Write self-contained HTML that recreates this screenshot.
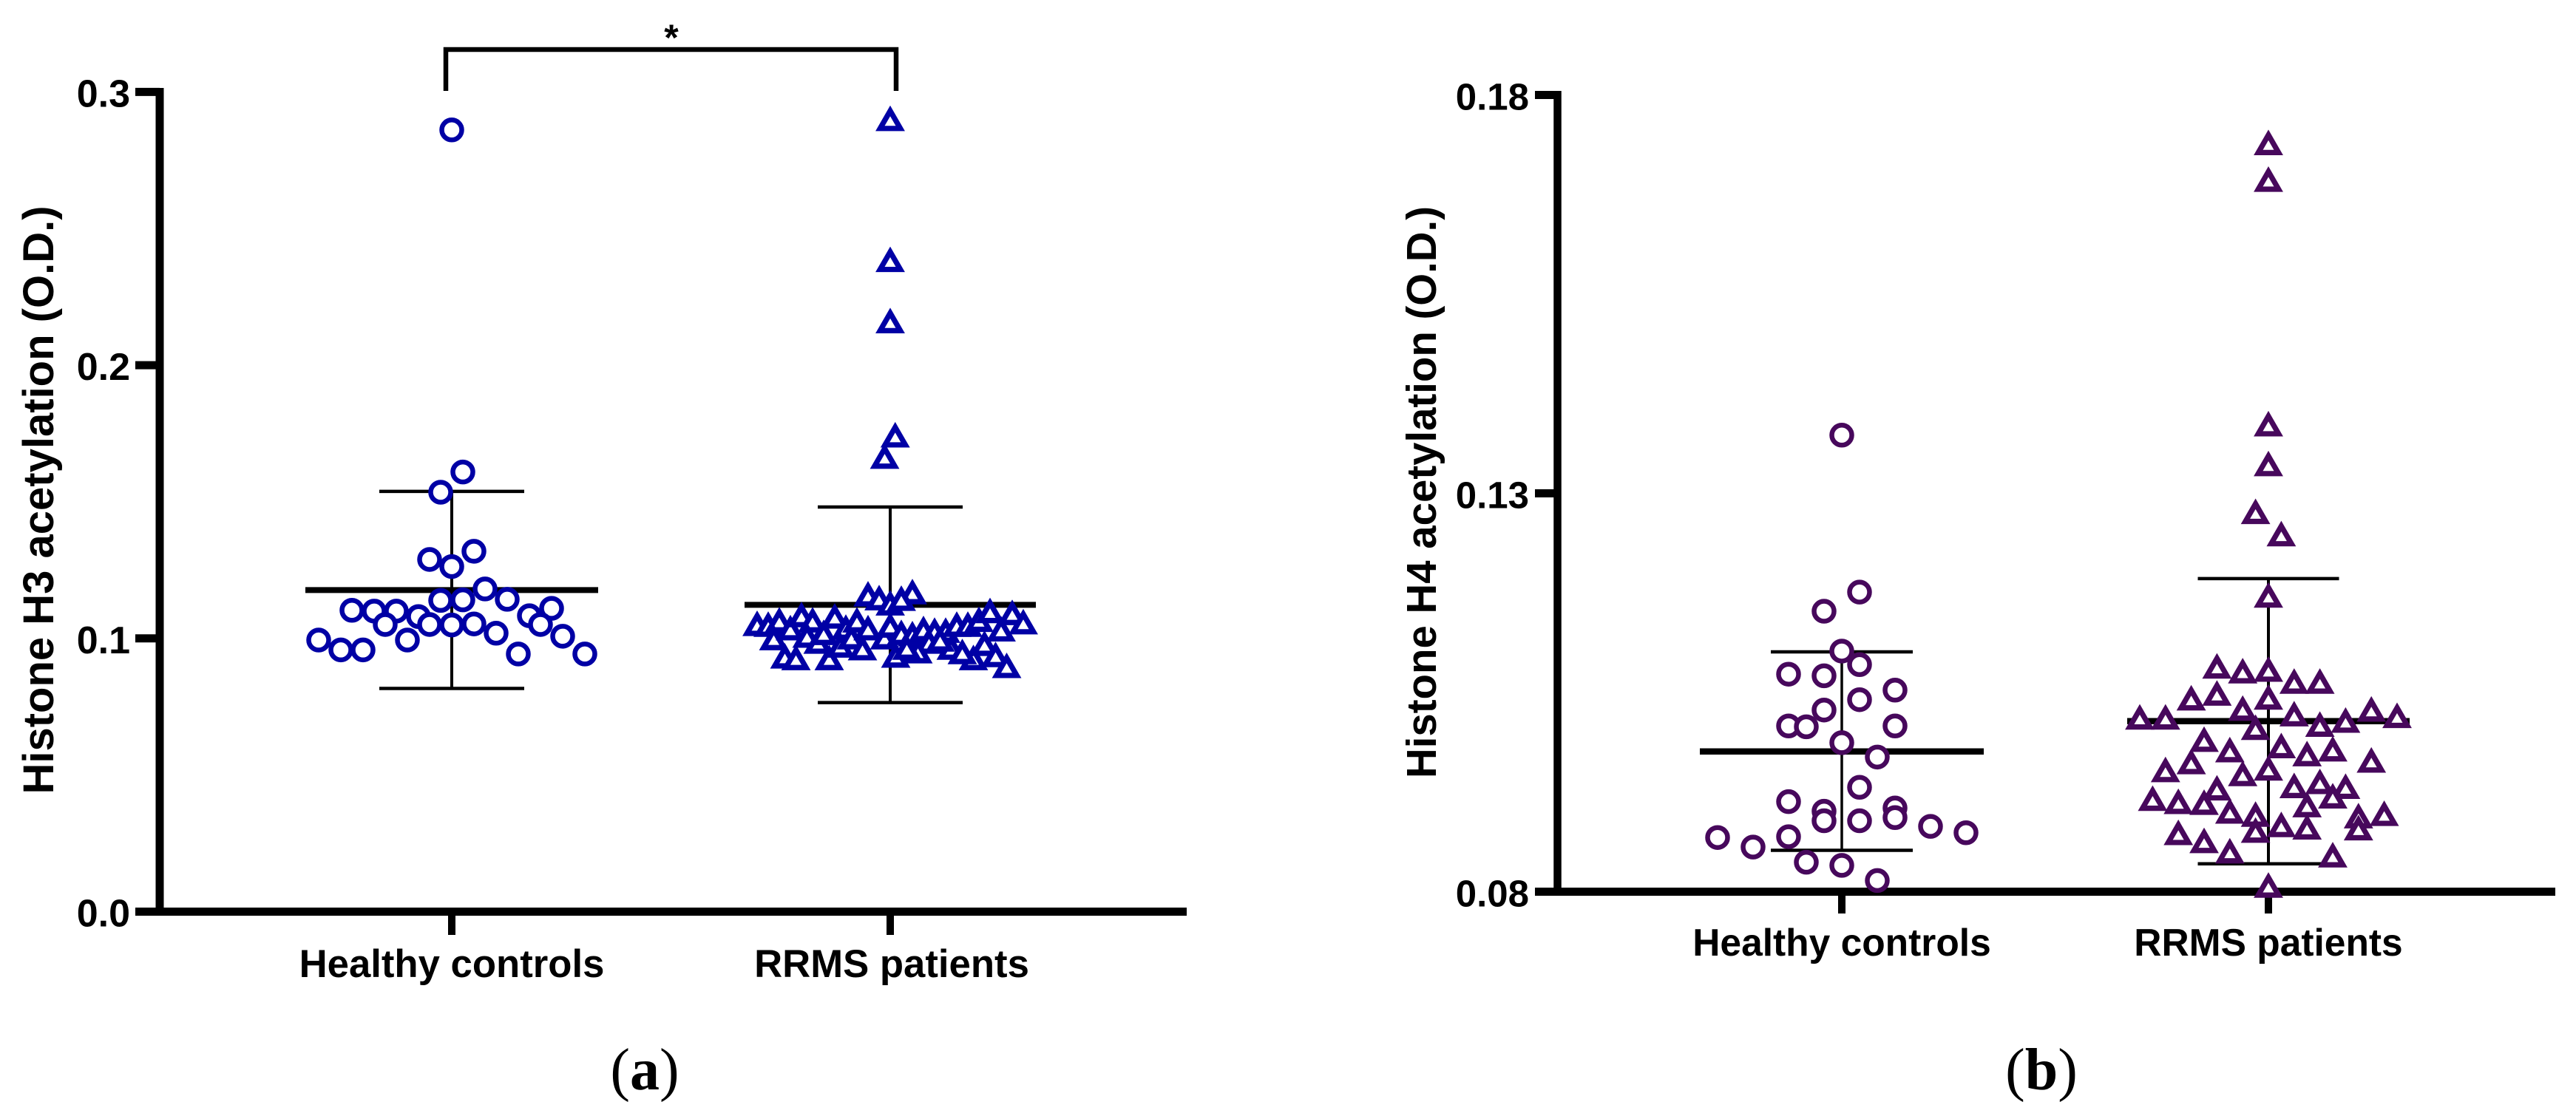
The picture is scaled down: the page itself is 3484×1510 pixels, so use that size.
<!DOCTYPE html>
<html lang="en">
<head>
<meta charset="utf-8">
<title>Histone H3 and H4 acetylation</title>
<style>
html,body{margin:0;padding:0;background:#fff;}
svg{display:block;}
text{font-family:"Liberation Sans",sans-serif;font-weight:bold;fill:#000;}
.caption{font-family:"Liberation Serif",serif;font-weight:normal;}
</style>
</head>
<body>
<svg id="chart" xmlns="http://www.w3.org/2000/svg" width="3484" height="1510" viewBox="0 0 3484 1510">
<rect width="3484" height="1510" fill="#fff"></rect>
<g id="panelA"></g>
<g id="panelB"></g>
</svg>
<script>
// ---------- Panel A data ----------
const categoriesA = ['Healthy controls', 'RRMS patients'];
const tickValuesA = [0, 0.1, 0.2, 0.3];
const tickLabelsA = ['0.0', '0.1', '0.2', '0.3'];
const hcValuesA = [.2861,.1609,.1535,.1319,.1289,.1263,.1181,.1139,.1141,.1143,.1103,.1100,.1100,.1080,.1083,.1110,.1051,.1051,.1049,.1053,.1051,.1019,.0994,.0994,.1008,.0958,.0958,.0943,.0943];
const hcSlotsA = [0,1,-1,2,-2,0,3,-1,1,5,-9,-7,-5,-3,7,9,-6,-2,0,2,8,4,-12,-4,10,-10,-8,6,12];
const rrmsValuesA = [.2905,.2389,.2165,.1747,.1669,.1057,.1054,.1070,.1005,.1041,.0938,.0932,.1089,.1070,.1014,.0992,.1024,.0932,.1084,.1043,.0978,.1008,.1070,.0968,.1165,.1041,.1151,.1008,.1132,.1051,.0941,.1173,.1149,.1024,.1019,.1038,.1032,.1032,.1054,.1054,.1072,.1104,.1097,.1063,.1037,.0992,.0970,.0957,.0932,.0954,.0984,.0943,.0903,.1000,.0970];
const rrmsSlotsA = [0,0,0,.45,-.5,-12,-11,-10,-10.5,-9,-9.5,-8.5,-8,-7,-7.5,-6.5,-6,-5.5,-5,-4,-4.5,-3.5,-3,-2.5,-2,-2,-1,-.5,0,0,.5,2,1,1,2,3,4,5,6,7,8,9,11,12,10,3.5,5.5,2.5,7.5,6.5,8.5,9.5,10.5,4.5,1.5];
const hcStatsA = {mean:.1177, upper:.1538, lower:.0817};
const rrmsStatsA = {mean:.1123, upper:.1481, lower:.0765};

// ---------- Panel B data ----------
const categoriesB = ['Healthy controls', 'RRMS patients'];
const tickValuesB = [0.08, 0.13, 0.18];
const tickLabelsB = ['0.08', '0.13', '0.18'];
const hcValuesB = [.1373,.1176,.1152,.1102,.1085,.1073,.1071,.1053,.1041,.1028,.1008,.1007,.1008,.0987,.0969,.0931,.0913,.0901,.0905,.0889,.0893,.0889,.0882,.0868,.0869,.0874,.0856,.0837,.0833,.0814];
const hcSlotsB = [0,1,-1,0,1,-3,-1,3,1,-1,-3,-2,3,0,2,1,-3,-1,3,-1,3,1,5,-7,-3,7,-5,-2,0,2];
const rrmsValuesB = [.1741,.1695,.1388,.1338,.1278,.1250,.1173,.1084,.1078,.1080,.1065,.1065,.1044,.1050,.1045,.1020,.1020,.1031,.1024,.1011,.1016,.1030,.1022,.1007,.0992,.0979,.0984,.0974,.0980,.0964,.0954,.0949,.0956,.0966,.0931,.0934,.0939,.0933,.0918,.0914,.0913,.0902,.0921,.0910,.0898,.0885,.0882,.0896,.0899,.0881,.0878,.0875,.0865,.0852,.0847,.0809];
const rrmsSlotsB = [0,0,0,0,-1,1,0,-4,-2,0,2,4,-6,-4,0,-10,-8,-2,2,4,6,8,10,-1,-5,-3,1,3,5,-6,-8,-2,0,8,-4,2,4,6,-9,-7,-5,-3,5,3,-1,1,3,7,9,7,-1,-7,-5,-3,5,0];
const hcStatsB = {mean:.0976, upper:.1101, lower:.0852};
const rrmsStatsB = {mean:.1014, upper:.1193, lower:.0835};

const NS = 'http://www.w3.org/2000/svg';
const BLUE = '#0000a5';
const PURPLE = '#47085c';
const BLACK = '#000';

// ---------- Axis functions ----------
function yA(v) { return 1233.5 - v * 3697; }
function xA(i, slot) { return [611, 1204][i] + slot * 15; }
function yB(v) { return 1206.5 - (v - 0.08) * 10780; }
function xB(i, slot) { return [2491, 3068][i] + slot * (i === 0 ? 24 : 17.4); }

function make(parent, tag, attrs) {
  const el = document.createElementNS(NS, tag);
  for (const k in attrs) el.setAttribute(k, attrs[k]);
  parent.appendChild(el);
  return el;
}
function line(parent, x1, y1, x2, y2, w, name) {
  const el = make(parent, 'line', {x1: x1, y1: y1, x2: x2, y2: y2, stroke: BLACK, 'stroke-width': w});
  
  
  return el;
}
function label(parent, txt, x, y, size, anchor, name, transform) {
  const el = make(parent, 'text', {x: x, y: y, 'font-size': size, 'text-anchor': anchor});
  if (transform) el.setAttribute('transform', transform);
  el.textContent = txt;
  
  
  return el;
}
function circle(parent, cx, cy, color, name) {
  const el = make(parent, 'circle', {cx: cx, cy: cy, r: 13.5, fill: '#fff', stroke: color, 'stroke-width': 6.5});
  
  
  return el;
}
function triangle(parent, cx, cy, color, name) {
  const pts = (cx) + ',' + (cy - 9.5) + ' ' + (cx + 13.7) + ',' + (cy + 14.3) + ' ' + (cx - 13.7) + ',' + (cy + 14.3);
  const el = make(parent, 'polygon', {points: pts, fill: '#fff', stroke: color, 'stroke-width': 7.2, 'stroke-miterlimit': 10});
  
  
  return el;
}
function errorBars(parent, x, stats, y, meanHalf, capHalf, meanW, capW, stemW, prefix) {
  line(parent, x, y(stats.upper), x, y(stats.lower), stemW, prefix + '-error-stem');
  line(parent, x - capHalf, y(stats.upper), x + capHalf, y(stats.upper), capW, prefix + '-upper-cap');
  line(parent, x - capHalf, y(stats.lower), x + capHalf, y(stats.lower), capW, prefix + '-lower-cap');
  line(parent, x - meanHalf, y(stats.mean), x + meanHalf, y(stats.mean), meanW, prefix + '-mean-line');
}

// ---------- Panel A ----------
const a = document.getElementById('panelA');
line(a, 216, 119, 216, 1239, 11, 'y-axis-line');
line(a, 183, 1233.5, 1605, 1233.5, 11, 'x-axis-line');
tickValuesA.forEach(function (v, i) {
  line(a, 183, yA(v), 216, yA(v), 11, 'y-tick');
  label(a, tickLabelsA[i], 176, yA(v) + 20, 52, 'end', 'y-tick-label');
});
categoriesA.forEach(function (c, i) {
  line(a, xA(i, 0), 1233.5, xA(i, 0), 1265, 10, 'x-tick');
  label(a, c, xA(i, 0) + (i ? 2 : 0), 1322, 52.7, 'middle', 'x-tick-label');
});
label(a, 'Histone H3 acetylation (O.D.)', 0, 0, 58, 'middle', 'y-axis-title', 'translate(72,676.5) rotate(-90)');
const bracket = make(a, 'path', {d: 'M603 123V67H1212V123', fill: 'none', stroke: BLACK, 'stroke-width': 6.5});


label(a, '*', 908, 68, 50, 'middle', 'significance-star');
errorBars(a, xA(0, 0), hcStatsA, yA, 198, 98, 8, 4.5, 4, 'healthy');
errorBars(a, xA(1, 0), rrmsStatsA, yA, 197, 98, 8, 4.5, 4, 'rrms');
hcValuesA.forEach(function (v, i) {
  circle(a, xA(0, hcSlotsA[i]), yA(v), BLUE, 'healthy-point');
});
rrmsValuesA.forEach(function (v, i) {
  triangle(a, xA(1, rrmsSlotsA[i]), yA(v), BLUE, 'rrms-point');
});
const capA = label(a, '', 872, 1474, 80, 'middle', 'panel-a-caption');
capA.setAttribute('class', 'caption');
capA.innerHTML = '(<tspan font-weight="bold">a</tspan>)';

// ---------- Panel B ----------
const b = document.getElementById('panelB');
line(b, 2106.5, 123, 2106.5, 1212, 10.5, 'y-axis-line');
line(b, 2076, 1206.5, 3456, 1206.5, 11, 'x-axis-line');
tickValuesB.forEach(function (v, i) {
  line(b, 2076, yB(v), 2106, yB(v), 11, 'y-tick');
  label(b, tickLabelsB[i], 2068, yB(v) + 20, 51, 'end', 'y-tick-label');
});
categoriesB.forEach(function (c, i) {
  line(b, xB(i, 0), 1206.5, xB(i, 0), 1236, 10, 'x-tick');
  label(b, c, xB(i, 0), 1293, 51.5, 'middle', 'x-tick-label');
});
label(b, 'Histone H4 acetylation (O.D.)', 0, 0, 56.4, 'middle', 'y-axis-title', 'translate(1942,666) rotate(-90)');
errorBars(b, xB(0, 0), hcStatsB, yB, 192, 96, 8.5, 4.5, 3.5, 'healthy');
errorBars(b, xB(1, 0), rrmsStatsB, yB, 191, 95.5, 8.5, 4.5, 4, 'rrms');
hcValuesB.forEach(function (v, i) {
  circle(b, xB(0, hcSlotsB[i]), yB(v), PURPLE, 'healthy-point');
});
rrmsValuesB.forEach(function (v, i) {
  triangle(b, xB(1, rrmsSlotsB[i]), yB(v), PURPLE, 'rrms-point');
});
const capB = label(b, '', 2761, 1474, 80, 'middle', 'panel-b-caption');
capB.setAttribute('class', 'caption');
capB.innerHTML = '(<tspan font-weight="bold">b</tspan>)';
</script>
</body>
</html>
